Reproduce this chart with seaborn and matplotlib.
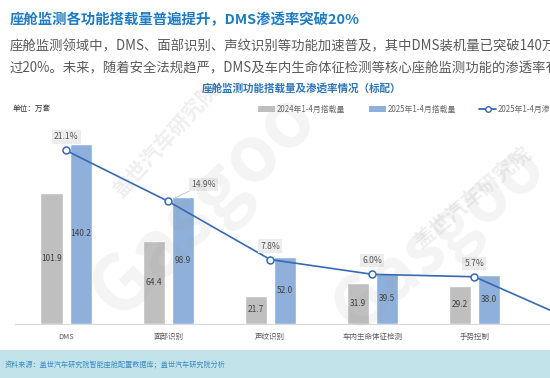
import numpy as np
import pandas as pd
import matplotlib
matplotlib.use("Agg")
import matplotlib.pyplot as plt
from matplotlib.patches import Patch, Rectangle
from matplotlib.lines import Line2D
import seaborn as sns

# ---- data ----
categories = ["DMS", "面部识别", "声纹识别", "车内生命体征检测", "手势控制", "情绪识别"]
series = ["2024年1-4月搭载量", "2025年1-4月搭载量"]
vol_2024 = [101.9, 64.4, 21.7, 31.9, 29.2, 0.5]
vol_2025 = [140.2, 98.9, 52.0, 39.5, 38.0, 1.3]
rate_2025 = [21.1, 14.9, 7.8, 6.0, 5.7, 0.2]
rate_label = "2025年1-4月渗透率"
n_visible = 5  # the last category lies beyond the cropped right edge

sns.set_theme(style="white")
plt.rcParams["font.family"] = ["Noto Sans CJK SC", "DejaVu Sans"]

gray = "#bfbfbf"
blue = "#8fb0da"
line_c = "#3569b3"

df = pd.DataFrame({
    "category": categories * 2,
    "series": [series[0]] * len(categories) + [series[1]] * len(categories),
    "value": vol_2024 + vol_2025,
})

W, H = 550, 378
fig = plt.figure(figsize=(W / 100, H / 100), dpi=100)
fig.patch.set_facecolor("white")

# bottom band
fig.patches.append(Rectangle((0, 0), 1, 28 / H, transform=fig.transFigure,
                             facecolor="#c3e3eb", edgecolor="none", zorder=0))

ax_left, ax_right, ax_bottom, ax_top = 15, 627.5, 323.5, 135
ax = fig.add_axes([ax_left / W, 1 - ax_bottom / H, (ax_right - ax_left) / W,
                   (ax_bottom - ax_top) / H])
ax.set_facecolor("none")

sns.barplot(data=df, x="category", y="value", hue="series", order=categories,
            hue_order=series, palette=[gray, blue], width=0.57, gap=0.24,
            saturation=1, legend=False, ax=ax, errorbar=None)
for cont in ax.containers:
    labs = [f"{v.get_height():.1f}" if k < n_visible else ""
            for k, v in enumerate(cont)]
    ax.bar_label(cont, labels=labs, label_type="center", fontsize=6, color="#404040")

ax.set_xlim(-0.5, 5.5)
ax.set_ylim(0, (ax_bottom - ax_top) / 1.28)
ax.set_xlabel("")
ax.set_ylabel("")
ax.set_yticks([])
ax.set_xticks(range(len(categories)))
ax.set_xticklabels([c if k < n_visible else "" for k, c in enumerate(categories)])
ax.tick_params(axis="x", length=0, pad=6.5, labelsize=5.4, labelcolor="#595959")
for s in ["top", "right", "left"]:
    ax.spines[s].set_visible(False)
ax.spines["bottom"].set_color("#d9d9d9")
ax.spines["bottom"].set_linewidth(0.8)

ax2 = ax.twinx()
pos = np.arange(len(categories))
sns.lineplot(x=pos, y=rate_2025, ax=ax2, color=line_c, linewidth=1.2,
             marker="o", markersize=5, markerfacecolor="white",
             markeredgecolor=line_c, markeredgewidth=1.1, legend=False)
ax2.set_ylim(0, (ax_bottom - ax_top) / 8.2)
ax2.set_xlim(-0.5, 5.5)
ax2.set_yticks([])
ax2.set_ylabel("")
for s in ["top", "right", "left", "bottom"]:
    ax2.spines[s].set_visible(False)

for i, r in enumerate(rate_2025[:n_visible]):
    if i == 1:
        ax2.annotate(f"{r:.1f}%", (pos[i], r), xytext=(35, 17),
                     textcoords="offset pixels", ha="center", va="center",
                     fontsize=6.2, color="#555555",
                     bbox=dict(boxstyle="square,pad=0.25", fc="#ececec", ec="none"),
                     arrowprops=dict(arrowstyle="-", color="#bfbfbf", lw=0.6,
                                     shrinkA=0, shrinkB=5))
    else:
        ax2.annotate(f"{r:.1f}%", (pos[i], r), xytext=(0, 13.5),
                     textcoords="offset pixels", ha="center", va="center",
                     fontsize=6.2, color="#555555",
                     bbox=dict(boxstyle="square,pad=0.25", fc="#ececec", ec="none"))

# watermark (faint)
wm = "#9a9a9a"
fig.text(165 / W, 1 - 140 / H, "盖世汽车研究院", rotation=48, fontsize=15,
         color=wm, alpha=0.16, ha="center", va="center", weight="bold")
fig.text(205 / W, 1 - 205 / H, "Gasgoo", rotation=45, fontsize=56,
         color=wm, alpha=0.11, ha="center", va="center", weight="bold")
fig.text(472 / W, 1 - 197 / H, "盖世汽车研究院", rotation=40, fontsize=15,
         color=wm, alpha=0.16, ha="center", va="center", weight="bold")
fig.text(440 / W, 1 - 240 / H, "Gasgoo", rotation=40, fontsize=50,
         color=wm, alpha=0.11, ha="center", va="center", weight="bold")

# texts
fig.text(10 / W, 1 - 20 / H, "座舱监测各功能搭载量普遍提升，DMS渗透率突破20%",
         fontsize=10.4, color="#1f7bc1", weight="bold", ha="left", va="center")
fig.text(10 / W, 1 - 46 / H,
         "座舱监测领域中，DMS、面部识别、声纹识别等功能加速普及，其中DMS装机量已突破140万",
         fontsize=9.6, color="#595959", ha="left", va="center")
fig.text(10 / W, 1 - 68 / H,
         "过20%。未来，随着安全法规趋严，DMS及车内生命体征检测等核心座舱监测功能的渗透率有",
         fontsize=9.6, color="#595959", ha="left", va="center")
fig.text(302 / W, 1 - 88 / H, "座舱监测功能搭载量及渗透率情况（标配）",
         fontsize=7.6, color="#2e75b6", weight="bold", ha="center", va="center")
fig.text(13 / W, 1 - 109 / H, "单位：万套", fontsize=5.5, color="#333333",
         ha="left", va="center")
fig.text(5 / W, 13 / H, "资料来源：盖世汽车研究院智能座舱配置数据库；盖世汽车研究院分析",
         fontsize=5.1, color="#3c8dbf", ha="left", va="center", style="italic")

handles = [Patch(facecolor=gray, edgecolor="none"),
           Patch(facecolor=blue, edgecolor="none"),
           Line2D([], [], color=line_c, lw=1.3, marker="o", markersize=4,
                  markerfacecolor="white", markeredgecolor=line_c, markeredgewidth=1.0)]
fig.legend(handles, series + [rate_label], loc="center left",
           bbox_to_anchor=(258 / W, 1 - 109 / H), ncol=3, frameon=False,
           fontsize=5.7, labelcolor="#666666", handlelength=2.15,
           handleheight=0.7, handletextpad=0.2, columnspacing=3.0,
           borderaxespad=0, borderpad=0)

fig.savefig("out.png", dpi=100)
